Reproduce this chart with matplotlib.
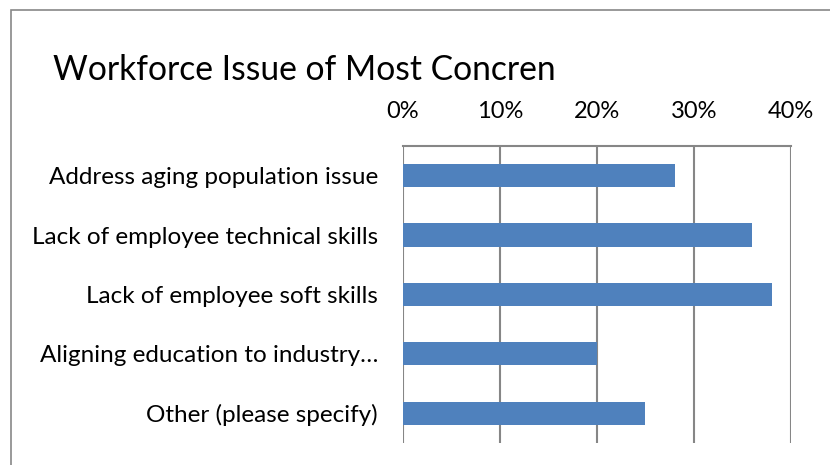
import matplotlib.pyplot as plt
from matplotlib.patches import Rectangle
from matplotlib.ticker import PercentFormatter

# survey answers, top to bottom
issues = ["Address aging population issue",
          "Lack of employee technical skills",
          "Lack of employee soft skills",
          "Aligning education to industry\u2026",
          "Other (please specify)"]
shares = [28, 36, 38, 20, 25]
ticks = [0, 10, 20, 30, 40]

plt.rcParams['font.family'] = ['Lato', 'DejaVu Sans']

fig = plt.figure(figsize=(8.3, 4.65), dpi=100)
ax = fig.add_axes([0.4855, 0.0473, 0.4675, 0.639])

pos = list(range(len(issues)))
ax.barh(pos, shares, height=0.39, color="#4F81BD", zorder=2)
ax.set_ylim(len(issues) - 0.5, -0.5)
ax.set_yticks(pos)
ax.set_yticklabels(issues, fontsize=17.5)

ax.set_xlim(0, 40)
ax.set_xticks(ticks)
ax.xaxis.set_major_formatter(PercentFormatter(decimals=0))
ax.xaxis.tick_top()
ax.tick_params(axis='x', length=0, pad=17, labelsize=17)
ax.tick_params(axis='y', length=0, pad=18)
ax.grid(axis='x', color="#868686", linewidth=1.5, zorder=1)
ax.set_axisbelow(True)

for side in ['left', 'right', 'bottom']:
    ax.spines[side].set_visible(False)
ax.spines['top'].set_color("#868686")
ax.spines['top'].set_linewidth(1.5)

fig.text(0.064, 0.85, "Workforce Issue of Most Concren", fontsize=24.2,
         va='center', ha='left')

# chart area border
fig.patches.append(Rectangle((11 / 830, -0.1), 1.2, 1.1 - 10 / 465,
                             transform=fig.transFigure, fill=False,
                             edgecolor="#888888", linewidth=1.2))

fig.savefig("out.png", dpi=100)
